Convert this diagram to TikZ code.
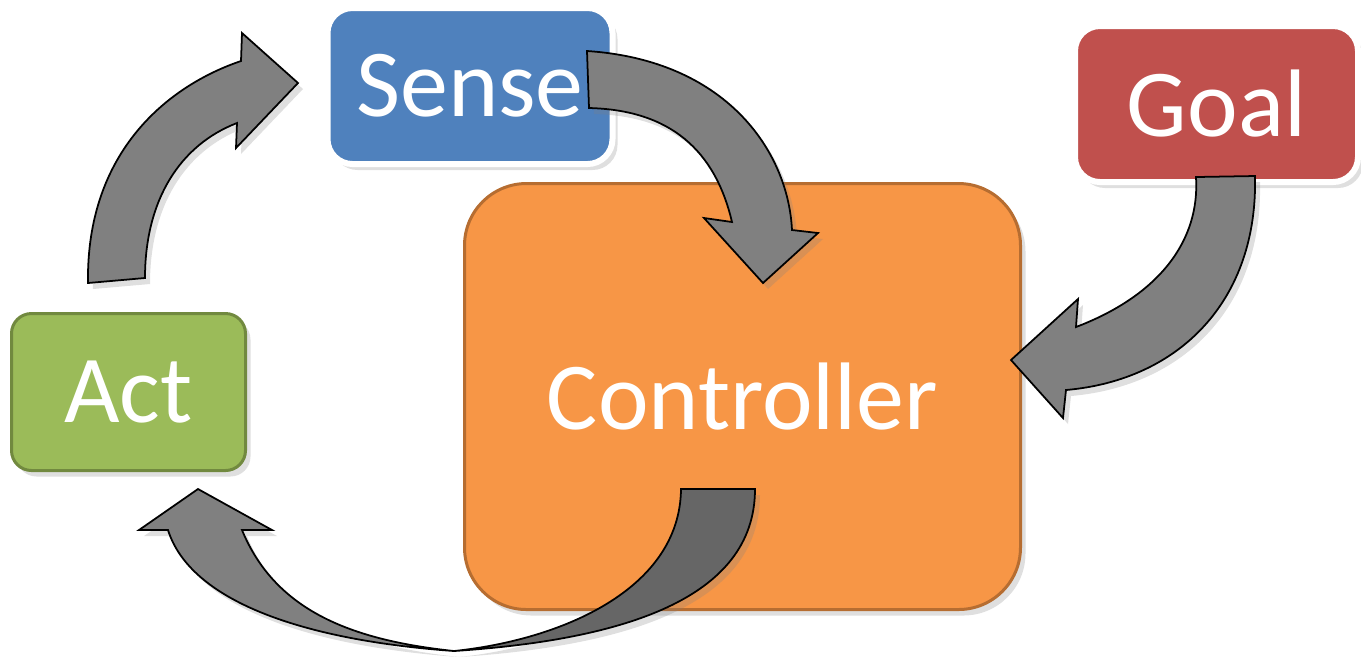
\documentclass[tikz,border=0pt]{standalone}
\usepackage{fontspec}
\setmainfont{Carlito}
\usetikzlibrary{shadows}
\definecolor{senseblue}{HTML}{4F81BD}
\definecolor{goalred}{HTML}{C0504D}
\definecolor{actgreen}{HTML}{9BBB59}
\definecolor{actedge}{HTML}{71893F}
\definecolor{ctrlorange}{HTML}{F79646}
\definecolor{ctrledge}{HTML}{B66D31}
\definecolor{arrowgray}{HTML}{808080}
\definecolor{arrowdark}{HTML}{666666}
\tikzset{
  boxshadow/.style={drop shadow={shadow xshift=.5mm,shadow yshift=-.6mm,opacity=.25}},
  stepbox/.style={rounded corners=2.5mm,text=white,inner sep=0pt,boxshadow,
    font=\fontsize{27.3}{33}\selectfont},
  blockarrow/.style={fill=arrowgray,draw=black,line width=.5pt,line join=miter,boxshadow}
}
\begin{document}
\begin{tikzpicture}[x=.1mm,y=-.1mm]
      \useasboundingbox (0,0) rectangle (1361,659);
      % boxes
      \node[stepbox,fill=ctrlorange,draw=ctrledge,line width=.3mm,rounded corners=6.2mm,
        minimum width=5.56cm,minimum height=4.26cm] (controller) at (742.5,396.5) {Controller};
      \node[stepbox,fill=senseblue,draw=white,line width=.6mm,
        minimum width=2.85cm,minimum height=1.56cm] (sense) at (470,86) {Sense};
      \node[stepbox,fill=goalred,draw=white,line width=.6mm,
        minimum width=2.83cm,minimum height=1.56cm] (goal) at (1216.5,104) {Goal};
      \node[stepbox,fill=actgreen,draw=actedge,line width=.3mm,rounded corners=2mm,
        minimum width=2.34cm,minimum height=1.57cm] (act) at (128.5,392) {Act};
      % act to sense
      \draw[blockarrow] (88,283) .. controls (86,150) and (170,85) .. (241,61)
        -- (242,33) -- (298,83) -- (236,148) -- (237,123)
        .. controls (180,145) and (145,200) .. (145,278) -- cycle;
      % sense to controller
      \draw[blockarrow] (587,51) .. controls (725,60) and (788,150) .. (792,230)
        -- (818,233) -- (763,283) -- (704,218) -- (732,222)
        .. controls (715,150) and (670,110) .. (589,108) -- cycle;
      % goal to controller
      \draw[blockarrow] (1255,176) .. controls (1258,300) and (1180,380) .. (1066,390)
        -- (1063,418) -- (1011,360) -- (1078,299) -- (1076,327)
        .. controls (1160,295) and (1200,240) .. (1196,177) -- cycle;
      % controller to act
      \draw[blockarrow] (454,651) .. controls (300,640) and (190,600) .. (168,530)
        -- (139,530) -- (198,489) -- (272,530) -- (242,530)
        .. controls (275,610) and (350,640) .. (454,651) -- cycle;
      \draw[blockarrow,fill=arrowdark] (681,489) .. controls (680,590) and (560,640) .. (454,651)
        .. controls (620,640) and (755,600) .. (755,489) -- cycle;
    \end{tikzpicture}
\end{document}
